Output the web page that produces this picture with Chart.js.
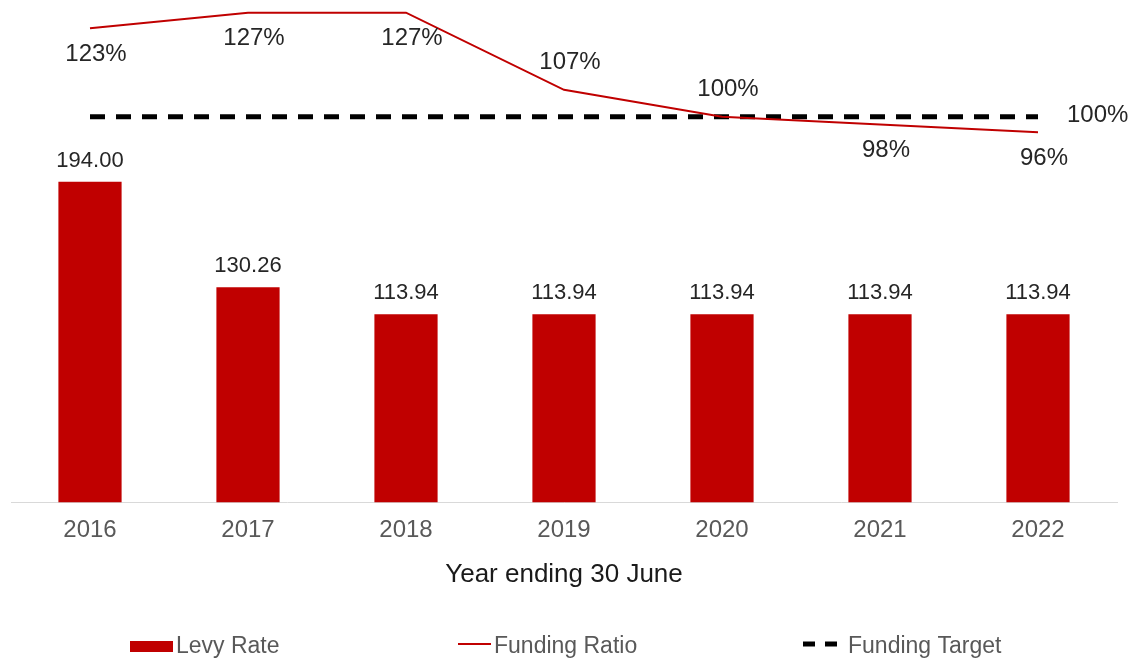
<!DOCTYPE html>
<html>
<head>
<meta charset="utf-8">
<script src="https://cdn.jsdelivr.net/npm/chart.js@4.4.0/dist/chart.umd.min.js"></script>
<style>
html,body{margin:0;padding:0;background:#ffffff;}
#wrap{width:1135px;height:662px;}
canvas{display:block;}
</style>
</head>
<body>
<div id="wrap"><canvas id="c" width="1135" height="662"></canvas></div>
<script>
// ---- data ----
const categories = ['2016', '2017', '2018', '2019', '2020', '2021', '2022'];
const levyRate = [194.00, 130.26, 113.94, 113.94, 113.94, 113.94, 113.94];
const fundingRatio = [123, 127, 127, 107, 100, 98, 96];
const fundingTarget = [100, 100, 100, 100, 100, 100, 100];
const ratioLabelSide = ['below', 'below', 'below', 'above', 'above', 'below', 'below'];
const seriesNames = ['Levy Rate', 'Funding Ratio', 'Funding Target'];
const axisTitle = 'Year ending 30 June';

// ---- style ----
const RED = '#C00000';
const FONT = '"Liberation Sans", Arial, sans-serif';

const valueLabels = {
  id: 'valueLabels',
  afterDatasetsDraw(chart) {
    const ctx = chart.ctx;
    ctx.save();
    ctx.fillStyle = '#262626';
    ctx.textAlign = 'center';
    ctx.textBaseline = 'middle';
    ctx.font = '22px ' + FONT;
    chart.getDatasetMeta(0).data.forEach((el, i) => {
      ctx.fillText(levyRate[i].toFixed(2), el.x, el.y - 21);
    });
    ctx.font = '24px ' + FONT;
    chart.getDatasetMeta(1).data.forEach((el, i) => {
      const dy = ratioLabelSide[i] === 'above' ? -27 : 26;
      ctx.fillText(fundingRatio[i] + '%', el.x + 6, el.y + dy);
    });
    const tData = chart.getDatasetMeta(2).data;
    const last = tData[tData.length - 1];
    ctx.textAlign = 'left';
    ctx.fillText(fundingTarget[fundingTarget.length - 1] + '%', last.x + 29, last.y - 1);
    ctx.restore();
  }
};

const customLegend = {
  id: 'customLegend',
  afterDraw(chart) {
    const ctx = chart.ctx;
    const y = 646;
    ctx.save();
    ctx.font = '23px ' + FONT;
    ctx.textAlign = 'left';
    ctx.textBaseline = 'middle';
    // Levy Rate
    ctx.fillStyle = RED;
    ctx.fillRect(130, y - 5, 43, 11);
    ctx.fillStyle = '#595959';
    ctx.fillText(seriesNames[0], 176, y + 1);
    // Funding Ratio
    ctx.strokeStyle = RED;
    ctx.lineWidth = 2;
    ctx.beginPath();
    ctx.moveTo(458, y - 2);
    ctx.lineTo(491, y - 2);
    ctx.stroke();
    ctx.fillText(seriesNames[1], 494, y + 1);
    // Funding Target
    ctx.strokeStyle = '#000000';
    ctx.lineWidth = 5;
    ctx.setLineDash([12, 10]);
    ctx.beginPath();
    ctx.moveTo(803, y - 2);
    ctx.lineTo(837, y - 2);
    ctx.stroke();
    ctx.setLineDash([]);
    ctx.fillText(seriesNames[2], 848, y + 1);
    ctx.restore();
  }
};

new Chart(document.getElementById('c'), {
  type: 'bar',
  data: {
    labels: categories,
    datasets: [
      {
        label: seriesNames[0],
        data: levyRate,
        backgroundColor: RED,
        borderWidth: 0,
        yAxisID: 'y',
        barPercentage: 0.8,
        categoryPercentage: 0.5,
        order: 2
      },
      {
        type: 'line',
        label: seriesNames[1],
        data: fundingRatio,
        borderColor: RED,
        borderWidth: 2,
        pointRadius: 0,
        tension: 0,
        fill: false,
        yAxisID: 'y2',
        order: 0
      },
      {
        type: 'line',
        label: seriesNames[2],
        data: fundingTarget,
        borderColor: '#000000',
        borderWidth: 5,
        borderDash: [15, 11],
        borderCapStyle: 'butt',
        pointRadius: 0,
        tension: 0,
        fill: false,
        yAxisID: 'y2',
        order: 1
      }
    ]
  },
  options: {
    responsive: false,
    animation: false,
    devicePixelRatio: 1,
    layout: { padding: { left: 11, right: 18, top: 5, bottom: 72 } },
    plugins: {
      legend: { display: false },
      tooltip: { enabled: false }
    },
    scales: {
      x: {
        grid: { display: false, drawTicks: false },
        border: { display: true, color: '#d9d9d9', width: 1 },
        ticks: { color: '#595959', font: { family: FONT, size: 24 }, padding: 13 },
        title: {
          display: true,
          text: axisTitle,
          color: '#1a1a1a',
          font: { family: FONT, size: 26 },
          padding: { top: 0, bottom: 0 }
        },
        afterFit(scale) { scale.height = 87.5; }
      },
      y: { display: false, min: 0, max: 301 },
      y2: { display: false, min: 0, max: 129, position: 'right' }
    }
  },
  plugins: [valueLabels, customLegend]
});
</script>
</body>
</html>
